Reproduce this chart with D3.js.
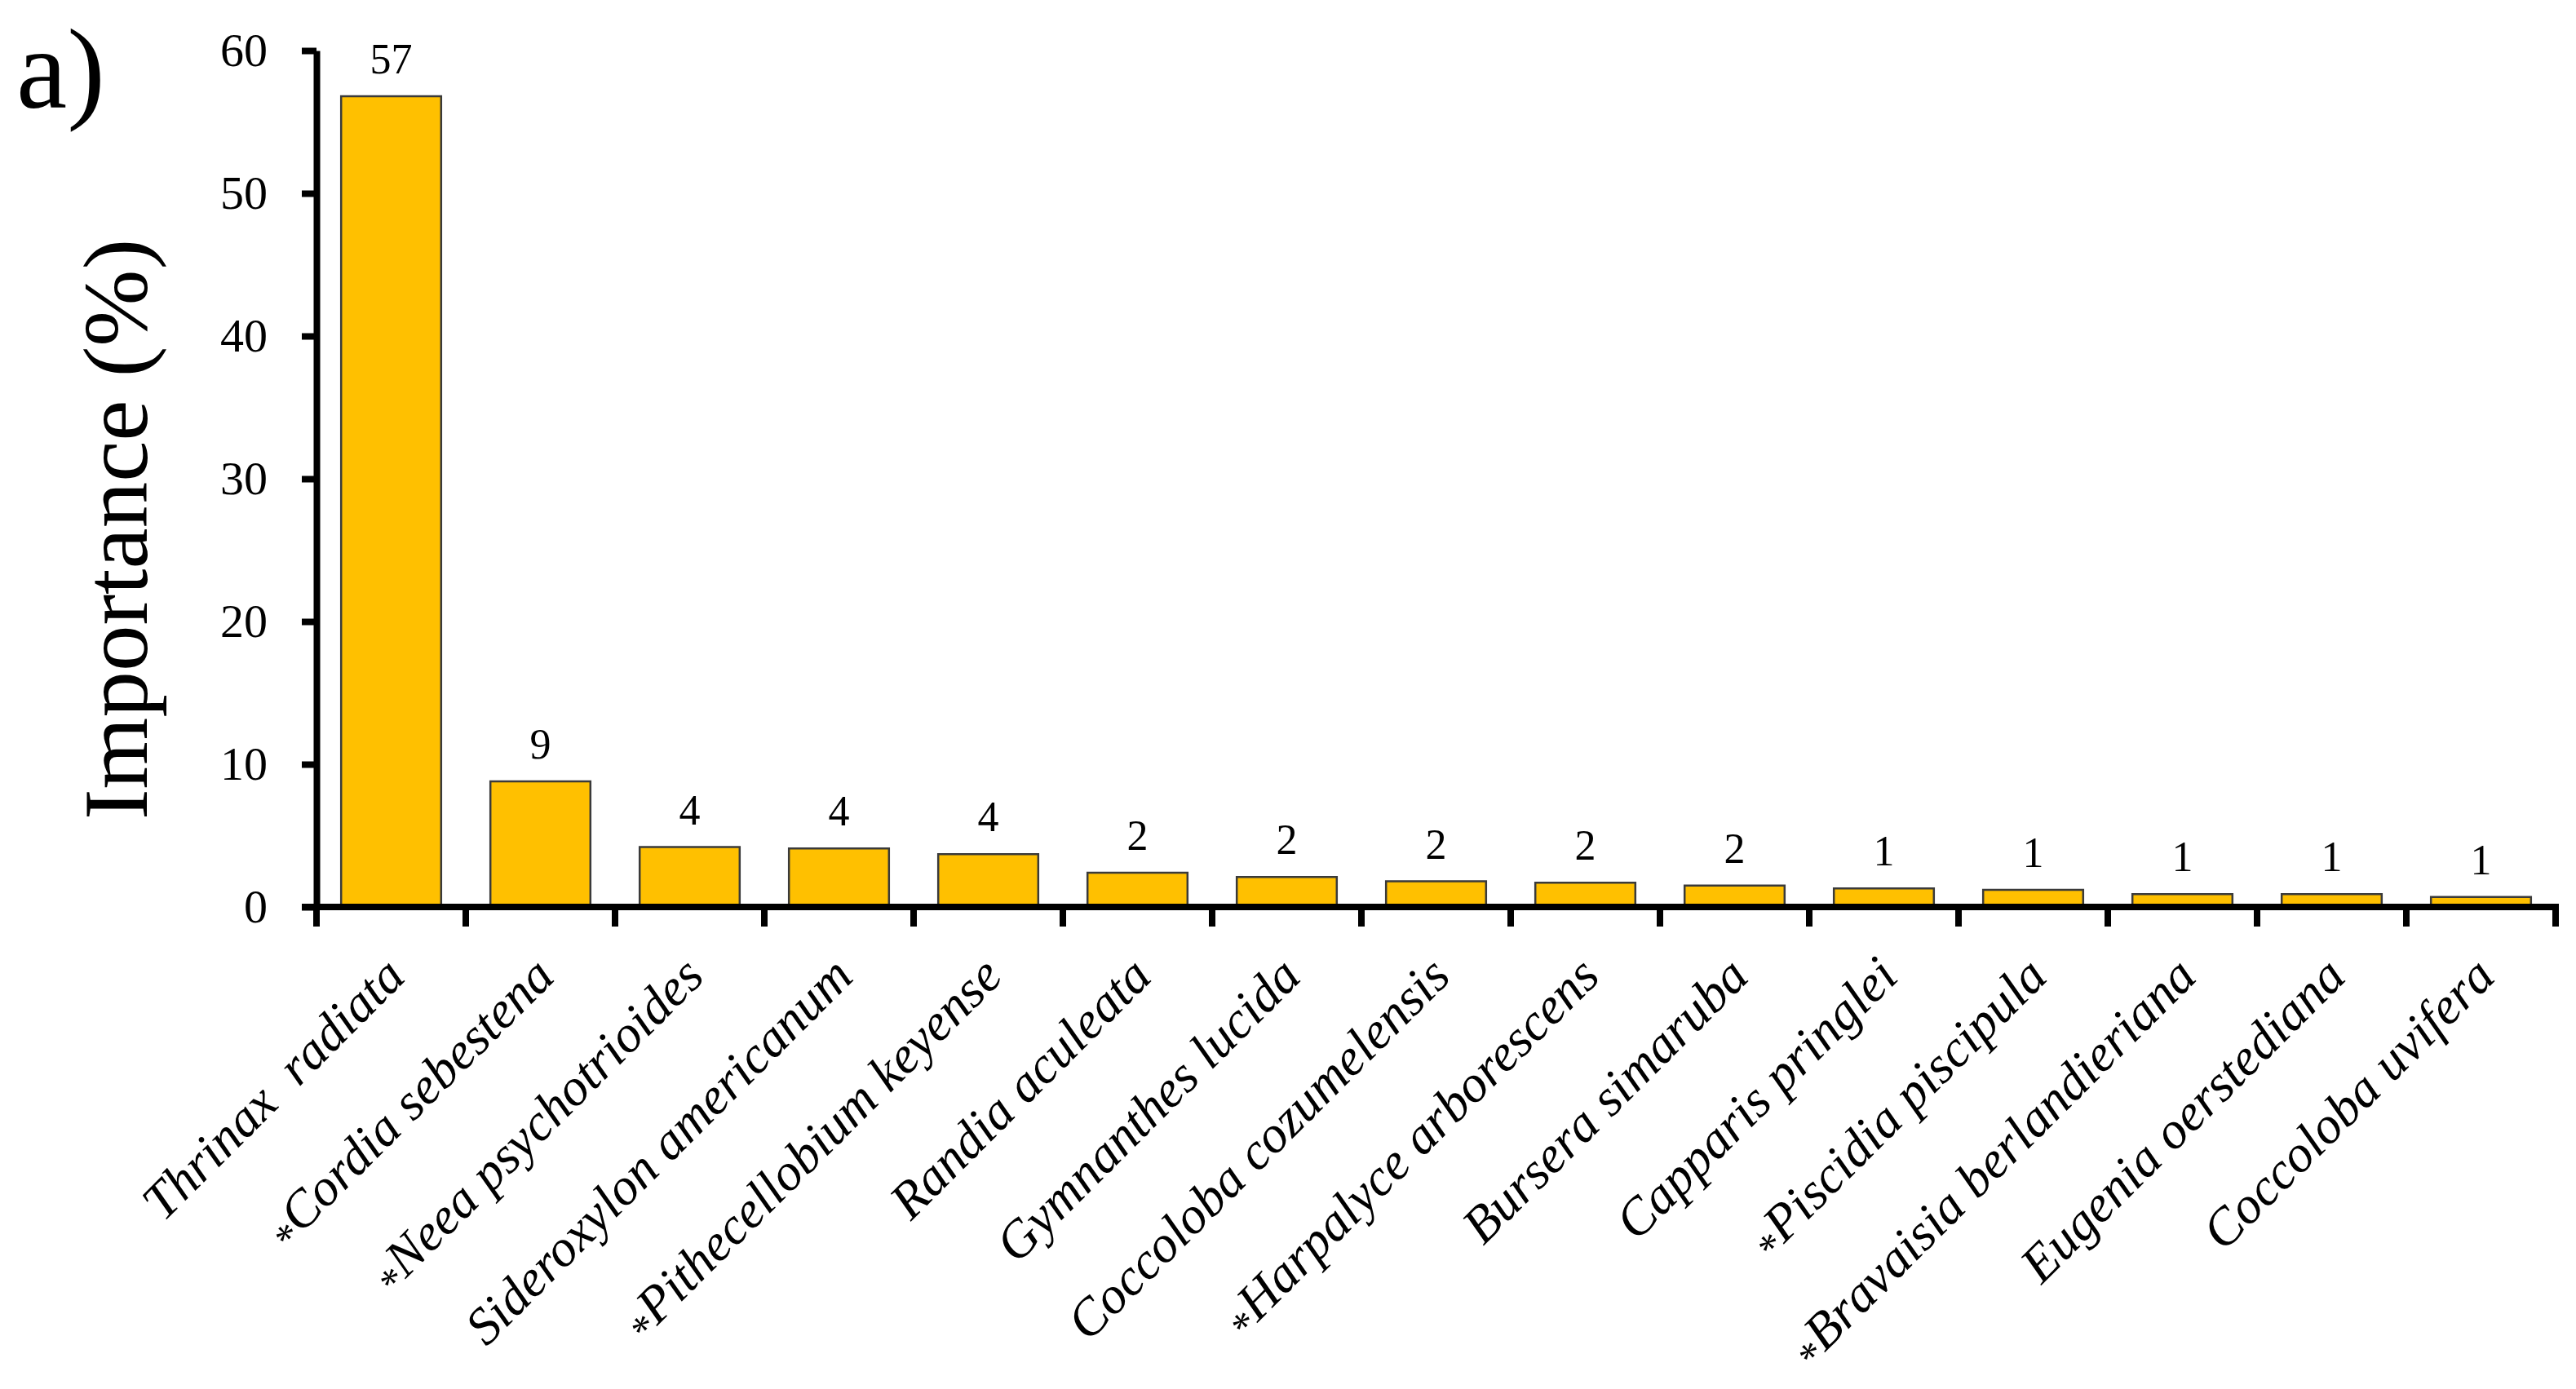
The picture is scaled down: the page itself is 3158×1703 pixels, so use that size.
<!DOCTYPE html>
<html>
<head>
<meta charset="utf-8">
<script src="https://cdn.jsdelivr.net/npm/d3@7"></script>
<style>
  html, body { margin: 0; padding: 0; background: #fff; }
  svg { display: block; }
  text { font-family: "Liberation Serif", "Times New Roman", serif; fill: #000; }
</style>
</head>
<body>
<script>
// ---- data ----
const categories = [
  "Thrinax  radiata", "*Cordia sebestena", "*Neea psychotrioides", "Sideroxylon americanum",
  "*Pithecellobium keyense", "Randia aculeata", "Gymnanthes lucida", "Coccoloba cozumelensis",
  "*Harpalyce arborescens", "Bursera simaruba", "Capparis pringlei", "*Piscidia piscipula",
  "*Bravaisia berlandieriana", "Eugenia oerstediana", "Coccoloba uvifera"
];
const values = [56.8, 8.8, 4.2, 4.1, 3.7, 2.4, 2.1, 1.8, 1.7, 1.5, 1.3, 1.2, 0.9, 0.9, 0.7];
const valueLabels = ["57", "9", "4", "4", "4", "2", "2", "2", "2", "2", "1", "1", "1", "1", "1"];
const yTicks = [0, 10, 20, 30, 40, 50, 60];
const yTitle = "Importance (%)";
const panelLabel = "a)";

// ---- layout ----
const W = 3158, H = 1703;
const svg = d3.select("body").append("svg").attr("width", W).attr("height", H);
svg.append("rect").attr("width", W).attr("height", H).attr("fill", "#fff");

const x = d3.scaleBand().domain(categories).range([388, 3133]).paddingInner(0.33).paddingOuter(0.165);
const y = d3.scaleLinear().domain([0, 60]).range([1112, 62]);

// bars
svg.append("g").selectAll("rect").data(categories).join("rect")
  .attr("x", d => x(d))
  .attr("y", (d, i) => y(values[i]))
  .attr("width", x.bandwidth())
  .attr("height", (d, i) => y(0) - y(values[i]))
  .attr("fill", "#FFC000")
  .attr("stroke", "#3a3a3a")
  .attr("stroke-width", 2.5);

// value labels
svg.append("g").selectAll("text").data(categories).join("text")
  .attr("x", d => x(d) + x.bandwidth() / 2)
  .attr("y", (d, i) => y(values[i]) - 28)
  .attr("text-anchor", "middle")
  .attr("font-size", 52)
  .text((d, i) => valueLabels[i]);

// y axis
const yAxis = svg.append("g").attr("transform", `translate(${x.range()[0]},0)`)
  .call(d3.axisLeft(y).tickValues(yTicks).tickSize(18).tickSizeOuter(0).tickPadding(42).tickFormat(d3.format("d")));
yAxis.select(".domain").attr("stroke", "#000").attr("stroke-width", 8);
yAxis.selectAll(".tick line").attr("stroke", "#000").attr("stroke-width", 8);
yAxis.selectAll(".tick text").attr("font-size", 58).attr("font-family", "Liberation Serif").attr("fill", "#000");

// x axis
const step = x.step();
const boundaries = categories.map(c => x(c) - step * x.paddingInner() / 2);
boundaries.push(x(categories[categories.length - 1]) + x.bandwidth() + step * x.paddingInner() / 2);
const xAxis = svg.append("g").attr("transform", `translate(0,${y(0)})`)
  .call(d3.axisBottom(x).tickSize(0).tickSizeOuter(0).tickFormat(""));
xAxis.select(".domain").attr("stroke", "#000").attr("stroke-width", 8)
  .attr("d", `M${x.range()[0] - 18},0H${x.range()[1] + 4}`);
xAxis.selectAll(".tick").remove();
xAxis.selectAll("line.bt").data(boundaries).join("line")
  .attr("class", "bt")
  .attr("x1", d => d).attr("x2", d => d)
  .attr("y1", 0).attr("y2", 24)
  .attr("stroke", "#000").attr("stroke-width", 8);

// category labels
const catG = svg.append("g");
categories.forEach(c => {
  const cx = x(c) + x.bandwidth() / 2 + 20;
  const cy = 1200;
  const t = catG.append("text")
    .attr("transform", `translate(${cx},${cy}) rotate(-45)`)
    .attr("text-anchor", "end")
    .attr("font-size", 64)
    .attr("font-style", "italic")
    .style("white-space", "pre");
  if (c.startsWith("*")) {
    t.append("tspan").attr("font-style", "normal").attr("font-size", 50).attr("dy", 8).text("*");
    t.append("tspan").attr("dy", -8).text(c.slice(1));
  } else {
    t.append("tspan").text(c);
  }
});

// y title
svg.append("text")
  .attr("transform", `translate(180,649) rotate(-90)`)
  .attr("text-anchor", "middle")
  .attr("font-size", 113)
  .text(yTitle);

// panel label
svg.append("text")
  .attr("x", 20).attr("y", 132)
  .attr("font-size", 140)
  .text(panelLabel);
</script>
</body>
</html>
